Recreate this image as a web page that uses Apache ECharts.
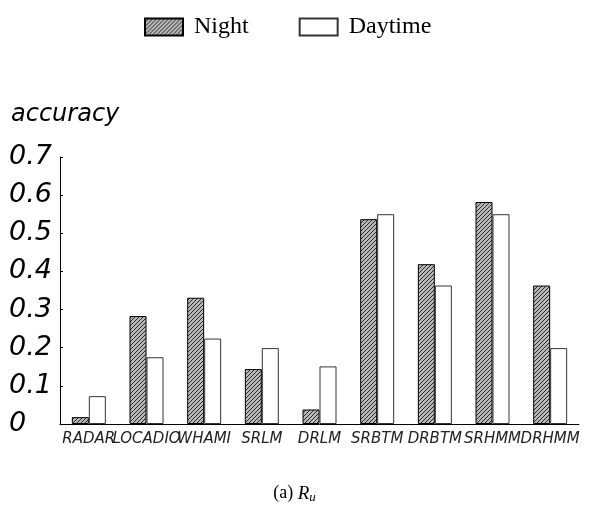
<!DOCTYPE html>
<html>
<head>
<meta charset="utf-8">
<script src="https://cdn.jsdelivr.net/npm/echarts@6/dist/echarts.min.js"></script>
<style>html,body{margin:0;padding:0;background:#fff}#c{width:589px;height:514px}</style>
</head>
<body>
<div id="c"></div>
<script>
var categories = ['RADAR', 'LOCADIO', 'WHAMI', 'SRLM', 'DRLM', 'SRBTM', 'DRBTM', 'SRHMM', 'DRHMM'];
var nightValues = [0.018, 0.283, 0.331, 0.144, 0.038, 0.537, 0.419, 0.582, 0.363];
var daytimeValues = [0.073, 0.175, 0.224, 0.199, 0.151, 0.55, 0.363, 0.55, 0.199];
var seriesNames = ['Night', 'Daytime'];
var yTicks = [0, 0.1, 0.2, 0.3, 0.4, 0.5, 0.6, 0.7];

function hatch() {
  var s = 4;
  var cv = document.createElement('canvas');
  cv.width = s; cv.height = s;
  var g = cv.getContext('2d');
  g.fillStyle = '#b8b8b8';
  g.fillRect(0, 0, s, s);
  g.strokeStyle = '#2a2a2a';
  g.lineWidth = 1;
  g.beginPath();
  g.moveTo(-1, s + 1); g.lineTo(s + 1, -1);
  g.moveTo(-1, 1); g.lineTo(1, -1);
  g.moveTo(s - 1, s + 1); g.lineTo(s + 1, s - 1);
  g.stroke();
  return cv;
}
var pattern = { image: hatch(), repeat: 'repeat' };

var chart = echarts.init(document.getElementById('c'), null, { renderer: 'canvas' });
chart.setOption({
  animation: false,
  backgroundColor: '#fff',
  title: [
    { text: 'accuracy', left: 6, top: 98,
      textStyle: { fontFamily: 'DejaVu Sans', fontStyle: 'oblique', fontWeight: 'normal', fontSize: 24, color: '#000' } },
    { text: '{a|(a) }{r|R}{u|u}', left: 'center', top: 478,
      textStyle: { fontWeight: 'normal', rich: {
        a: { fontFamily: 'Liberation Serif', fontWeight: 'normal', fontSize: 18, color: '#000' },
        r: { fontFamily: 'Liberation Serif', fontWeight: 'normal', fontStyle: 'italic', fontSize: 19, color: '#000' },
        u: { fontFamily: 'Liberation Serif', fontWeight: 'normal', fontStyle: 'italic', fontSize: 13, color: '#000', padding: [8, 0, 0, 0] }
      } } }
  ],
  legend: {
    data: seriesNames,
    icon: 'rect',
    left: 139, top: 10,
    itemWidth: 38, itemHeight: 17, itemGap: 50,
    selectedMode: false,
    textStyle: { fontFamily: 'Liberation Serif', fontSize: 24, color: '#000', padding: [0, 0, 0, 6] }
  },
  grid: { left: 60, right: 10, top: 157, bottom: 90, containLabel: false },
  xAxis: {
    type: 'category', data: categories,
    axisLine: { lineStyle: { color: '#000', width: 1 } },
    axisTick: { inside: true, length: 4, lineStyle: { color: '#000' } },
    axisLabel: { interval: 0, margin: 8, fontFamily: 'DejaVu Sans', fontStyle: 'oblique', fontSize: 15, color: '#222' }
  },
  yAxis: {
    type: 'value', min: 0, max: 0.7, interval: 0.1,
    splitLine: { show: false },
    axisLine: { show: true, lineStyle: { color: '#000', width: 1 } },
    axisTick: { show: true, inside: true, length: 3, lineStyle: { color: '#000' } },
    axisLabel: {
      align: 'left', margin: 51, padding: [0, 0, 12, 0],
      fontFamily: 'DejaVu Sans', fontStyle: 'oblique', fontSize: 27, color: '#000',
      formatter: function (v) { var i = yTicks.indexOf(+v.toFixed(1)); return i >= 0 ? String(yTicks[i]) : ''; }
    }
  },
  series: [
    { name: seriesNames[0], type: 'bar', data: nightValues, barWidth: 17, barGap: '0%',
      itemStyle: { color: pattern, borderColor: '#000', borderWidth: 1 } },
    { name: seriesNames[1], type: 'bar', data: daytimeValues, barWidth: 17,
      itemStyle: { color: '#fff', borderColor: '#333', borderWidth: 1 } }
  ]
});
</script>
</body>
</html>
